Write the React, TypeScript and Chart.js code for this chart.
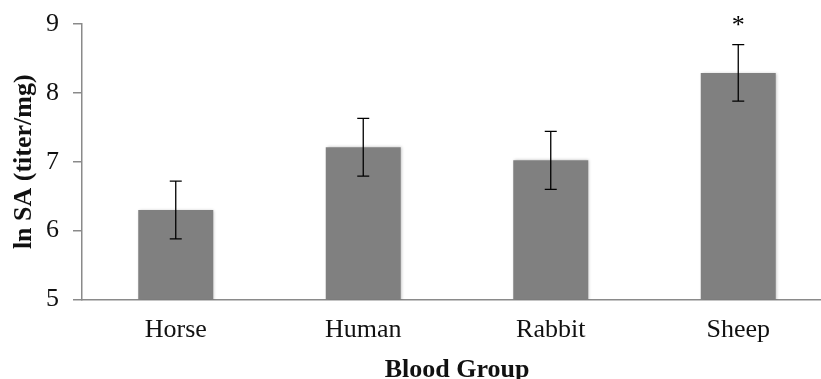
import React, { useEffect, useRef } from "react";
import { Chart, registerables } from "chart.js";

Chart.register(...registerables);

const categories = ["Horse", "Human", "Rabbit", "Sheep"];
const means = [6.3, 7.21, 7.02, 8.29];
const errors = [0.42, 0.42, 0.42, 0.41];
const significance = ["", "", "", "*"];
const yMin = 5;
const yMax = 9;
const yStep = 1;

const FONT = "'Liberation Serif', 'Times New Roman', serif";
const AXIS_COLOR = "#8a8a8a";

const errorBarPlugin = {
  id: "errorBars",
  afterDatasetsDraw(chart: any) {
    const ctx = chart.ctx;
    const meta = chart.getDatasetMeta(0);
    const yScale = chart.scales.y;
    ctx.save();
    ctx.strokeStyle = "#000";
    ctx.lineWidth = 1.3;
    meta.data.forEach((bar: any, i: number) => {
      const x = bar.x;
      const yTop = yScale.getPixelForValue(means[i] + errors[i]);
      const yBot = yScale.getPixelForValue(means[i] - errors[i]);
      const cap = 6;
      ctx.beginPath();
      ctx.moveTo(x, yTop);
      ctx.lineTo(x, yBot);
      ctx.moveTo(x - cap, yTop);
      ctx.lineTo(x + cap, yTop);
      ctx.moveTo(x - cap, yBot);
      ctx.lineTo(x + cap, yBot);
      ctx.stroke();
      if (significance[i]) {
        ctx.fillStyle = "#000";
        ctx.font = `26px ${FONT}`;
        ctx.textAlign = "center";
        ctx.textBaseline = "alphabetic";
        ctx.fillText(significance[i], x, yTop - 12);
      }
    });
    ctx.restore();
  },
};

const shadowPlugin = {
  id: "barShadow",
  beforeDatasetsDraw(chart: any) {
    const ctx = chart.ctx;
    ctx.save();
    ctx.shadowColor = "rgba(0,0,0,0.25)";
    ctx.shadowBlur = 3;
    ctx.shadowOffsetX = 1;
    ctx.shadowOffsetY = 0;
  },
  afterDatasetsDraw(chart: any) {
    chart.ctx.restore();
  },
};

export default function App() {
  const canvasRef = useRef<HTMLCanvasElement | null>(null);

  useEffect(() => {
    const canvas = canvasRef.current;
    if (!canvas) return;
    const chart = new Chart(canvas, {
      type: "bar",
      data: {
        labels: categories,
        datasets: [
          {
            data: means,
            backgroundColor: "#808080",
            borderWidth: 0,
            barPercentage: 0.4,
            categoryPercentage: 1,
          },
        ],
      },
      options: {
        animation: false,
        responsive: false,
        devicePixelRatio: 1,
        layout: { padding: { top: 24, right: 8, left: 0, bottom: 0 } },
        plugins: {
          legend: { display: false },
          tooltip: { enabled: false },
        },
        scales: {
          x: {
            offset: true,
            grid: { display: false, drawTicks: false },
            border: { display: true, color: AXIS_COLOR, width: 1.5 },
            ticks: {
              color: "#111",
              font: { family: FONT, size: 26 },
              padding: 15,
            },
            title: {
              display: true,
              text: "Blood Group",
              color: "#111",
              font: { family: FONT, size: 26, weight: "bold" },
              padding: { top: 0, bottom: 2 },
            },
            afterFit(scale: any) {
              scale.height = 88.5;
              scale.paddingLeft = 0;
              scale.paddingRight = 0;
            },
          },
          y: {
            min: yMin,
            max: yMax,
            ticks: {
              stepSize: yStep,
              color: "#111",
              font: { family: FONT, size: 26 },
              padding: 14,
            },
            grid: {
              display: true,
              drawOnChartArea: false,
              drawTicks: true,
              tickLength: 9,
              color: AXIS_COLOR,
              lineWidth: 1.5,
            },
            border: { display: true, color: AXIS_COLOR, width: 1.5 },
            title: {
              display: true,
              text: "ln SA (titer/mg)",
              color: "#111",
              font: { family: FONT, size: 26, weight: "bold" },
              padding: { top: 9, bottom: 0 },
            },
            afterFit(scale: any) {
              scale.width = 82;
              scale.paddingTop = 0;
              scale.paddingBottom = 0;
            },
          },
        },
      },
      plugins: [shadowPlugin, errorBarPlugin],
    });
    return () => chart.destroy();
  }, []);

  return (
    <div
      style={{
        position: "absolute",
        left: 0,
        top: 0,
        width: 821,
        height: 379,
        overflow: "hidden",
        background: "#fff",
      }}
    >
      <canvas ref={canvasRef} width={840} height={388} style={{ width: 840, height: 388, display: "block" }} />
    </div>
  );
}
